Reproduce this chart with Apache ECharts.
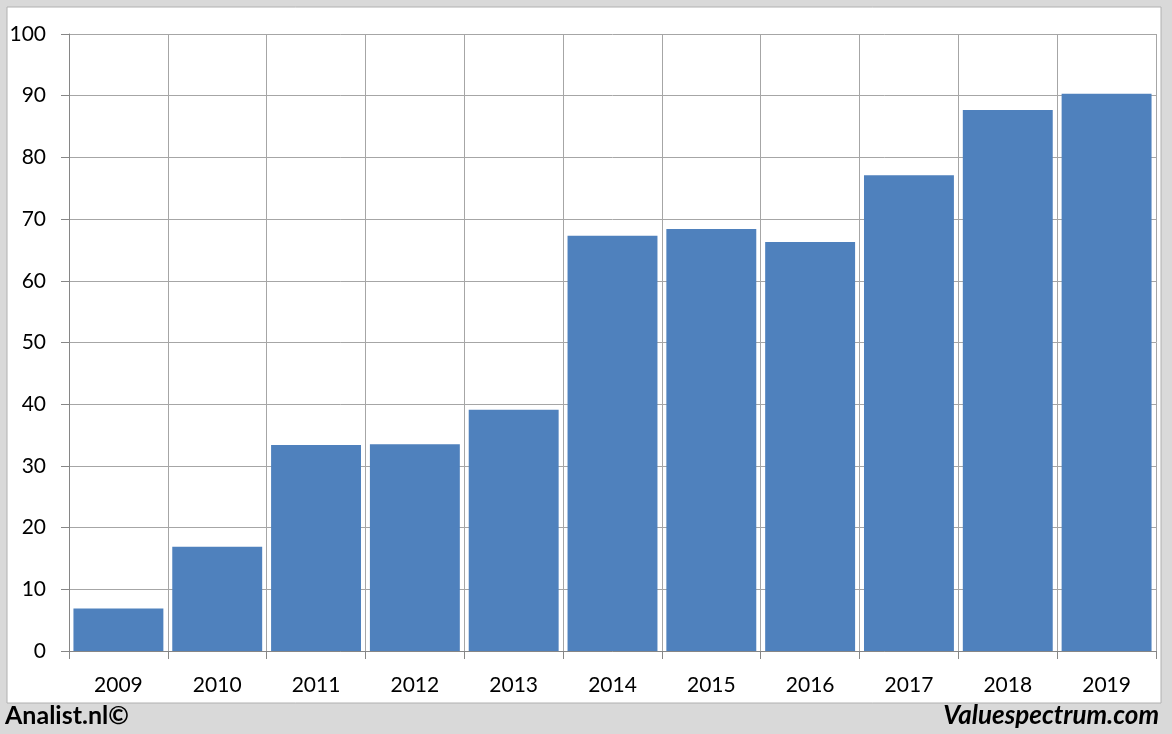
<!DOCTYPE html>
<html><head><meta charset="utf-8">
<script src="https://cdn.jsdelivr.net/npm/echarts@6/dist/echarts.min.js"></script>
<style>html,body{margin:0;padding:0;background:#d9d9d9;}#c{width:1172px;height:734px;}</style>
</head><body><div id="c"></div>
<script>
var categories = ['2009','2010','2011','2012','2013','2014','2015','2016','2017','2018','2019'];
var values = [6.9, 16.9, 33.4, 33.5, 39.1, 67.3, 68.4, 66.3, 77.1, 87.7, 90.3];
var yTicks = [0, 10, 20, 30, 40, 50, 60, 70, 80, 90, 100];

var chart = echarts.init(document.getElementById('c'), null, {renderer: 'canvas'});
var font = 'Lato, "Open Sans", sans-serif';
chart.setOption({
  animation: false,
  backgroundColor: '#d9d9d9',
  graphic: [
    {type: 'rect', z: -10, shape: {x: 7, y: 7, width: 1154, height: 696},
     style: {fill: '#ffffff', stroke: '#b0b0b0', lineWidth: 1}},
    {type: 'text', left: 5, top: 703, style: {text: 'Analist.nl©', font: 'bold 25px ' + font, fill: '#000'}},
    {type: 'text', right: 13, top: 703, style: {text: 'Valuespectrum.com', font: 'italic bold 26px ' + font, fill: '#000'}}
  ],
  grid: {left: 69, right: 16, top: 34, bottom: 83, containLabel: false},
  xAxis: {
    type: 'category',
    data: categories,
    axisLine: {show: true, lineStyle: {color: '#868686', width: 1}},
    axisTick: {show: true, length: 8, alignWithLabel: false, lineStyle: {color: '#868686'}},
    axisLabel: {color: '#000', fontSize: 21, fontFamily: font, margin: 24},
    splitLine: {show: true, lineStyle: {color: '#a6a6a6', width: 1}}
  },
  yAxis: {
    type: 'value',
    min: yTicks[0], max: yTicks[yTicks.length - 1], interval: 10,
    axisLine: {show: true, lineStyle: {color: '#868686', width: 1}},
    axisTick: {show: true, length: 8, lineStyle: {color: '#868686'}},
    axisLabel: {color: '#000', fontSize: 21, fontFamily: font, margin: 23},
    splitLine: {show: true, lineStyle: {color: '#a6a6a6', width: 1}}
  },
  series: [{
    type: 'bar',
    data: values,
    barCategoryGap: '9%',
    itemStyle: {color: '#4f81bd'}
  }]
});
</script></body></html>
